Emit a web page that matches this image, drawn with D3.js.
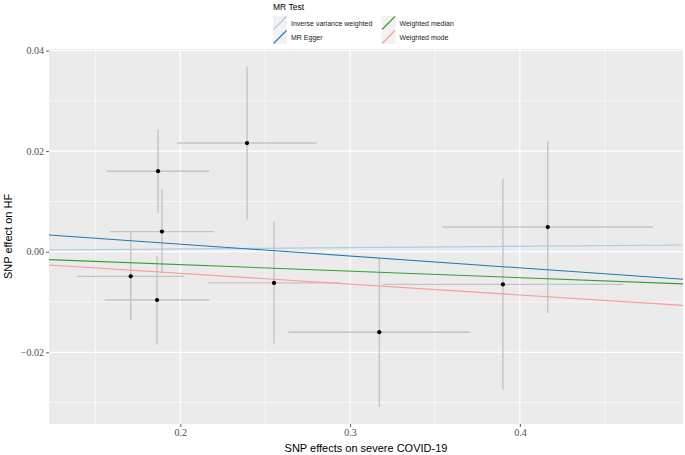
<!DOCTYPE html>
<html><head><meta charset="utf-8">
<script src="https://cdn.jsdelivr.net/npm/d3@7"></script>
<style>body{margin:0;background:#fff} .tick text{font-family:"Liberation Serif","DejaVu Serif",serif !important;}</style>
</head><body><svg id="c" width="685" height="455"></svg>
<script>
// Data
const snpX  = [0.1869, 0.2393, 0.1892, 0.1708, 0.1863, 0.2552, 0.3900, 0.4164, 0.3172];
const snpY  = [0.0160, 0.0216, 0.0040, -0.0049, -0.0096, -0.0062, -0.0065, 0.0049, -0.0160];
const seX   = [0.0302, 0.0411, 0.0306, 0.0315, 0.0309, 0.0392, 0.0708, 0.0621, 0.0535];
const seY   = [0.0083, 0.0152, 0.0083, 0.0088, 0.0088, 0.0121, 0.0210, 0.0171, 0.0148];
const methods    = ["Inverse variance weighted", "MR Egger", "Weighted median", "Weighted mode"];
const slopes     = [0.0027, -0.0236, -0.0129, -0.0215];
const intercepts = [0, 0.00622, 0, 0];
const colors     = ["#a6cee3", "#1f78b4", "#33a02c", "#fb9a99"];
const xTicks = [0.2, 0.3, 0.4];
const xMinor = [0.15, 0.25, 0.35, 0.45];
const yTicks = [-0.02, 0.00, 0.02, 0.04];
const yMinor = [-0.03, -0.01, 0.01, 0.03];

const svg = d3.select("#c");
const L = 49, R = 683, T = 49, B = 424;
const x = d3.scaleLinear().domain([0.2, 0.4]).range([180.3, 519.9]);
const y = d3.scaleLinear().domain([0, 0.02]).range([251.7, 151.1]);
// panel
svg.append("rect").attr("x", L).attr("y", T).attr("width", R - L).attr("height", B - T).attr("fill", "#ebebeb");
const g = svg.append("g");
g.selectAll(".vmin").data(xMinor).join("line").attr("x1", d => x(d)).attr("x2", d => x(d)).attr("y1", T).attr("y2", B).attr("stroke", "#fff").attr("stroke-width", 0.6);
g.selectAll(".hmin").data(yMinor).join("line").attr("y1", d => y(d)).attr("y2", d => y(d)).attr("x1", L).attr("x2", R).attr("stroke", "#fff").attr("stroke-width", 0.6);
g.selectAll(".vmaj").data(xTicks).join("line").attr("x1", d => x(d)).attr("x2", d => x(d)).attr("y1", T).attr("y2", B).attr("stroke", "#fff").attr("stroke-width", 1.2);
g.selectAll(".hmaj").data(yTicks).join("line").attr("y1", d => y(d)).attr("y2", d => y(d)).attr("x1", L).attr("x2", R).attr("stroke", "#fff").attr("stroke-width", 1.2);

const pts = snpX.map((v, i) => ({x: v, y: snpY[i], sx: seX[i], sy: seY[i]}));
svg.append("defs").append("clipPath").attr("id", "pc").append("rect").attr("x", L).attr("y", T).attr("width", R - L).attr("height", B - T);
const pg = svg.append("g").attr("clip-path", "url(#pc)");
pg.selectAll(".eh").data(pts).join("line").attr("x1", d => x(d.x - d.sx)).attr("x2", d => x(d.x + d.sx)).attr("y1", d => y(d.y)).attr("y2", d => y(d.y)).attr("stroke", "#c4c4c4").attr("stroke-width", 1.4);
pg.selectAll(".ev").data(pts).join("line").attr("x1", d => x(d.x)).attr("x2", d => x(d.x)).attr("y1", d => y(d.y - d.sy)).attr("y2", d => y(d.y + d.sy)).attr("stroke", "#c4c4c4").attr("stroke-width", 1.4);
const x0 = x.invert(L), x1 = x.invert(R);
pg.selectAll(".ab").data(methods).join("line")
  .attr("x1", L).attr("x2", R)
  .attr("y1", (d, i) => y(intercepts[i] + slopes[i] * x0))
  .attr("y2", (d, i) => y(intercepts[i] + slopes[i] * x1))
  .attr("stroke", (d, i) => colors[i]).attr("stroke-width", 1.1);
pg.selectAll(".pt").data(pts).join("circle").attr("cx", d => x(d.x)).attr("cy", d => y(d.y)).attr("r", 2.1).attr("fill", "#000");

// axes
const xa = svg.append("g").attr("transform", `translate(0,${B})`).call(d3.axisBottom(x).tickValues(xTicks).tickFormat(d3.format(".1f")).tickSize(3).tickPadding(2));
const ya = svg.append("g").attr("transform", `translate(${L},0)`).call(d3.axisLeft(y).tickValues(yTicks).tickFormat(d => d3.format(".2f")(d).replace("-", "\u2212")).tickSize(3).tickPadding(2));
[xa, ya].forEach(a => {
  a.attr("font-family", "Liberation Serif, DejaVu Serif, serif").attr("font-size", 10);
  a.select(".domain").remove();
  a.selectAll(".tick line").attr("stroke", "#333").attr("stroke-width", 0.8);
  a.selectAll(".tick text").attr("fill", "#4d4d4d");
});

svg.append("text").attr("x", (L + R) / 2).attr("y", 452).attr("text-anchor", "middle").style("font-family", "'Liberation Sans', Arial, sans-serif").style("font-size", "11px").text("SNP effects on severe COVID-19");
svg.append("text").attr("transform", `translate(12,${(T + B) / 2}) rotate(-90)`).attr("text-anchor", "middle").style("font-family", "'Liberation Sans', Arial, sans-serif").style("font-size", "11px").text("SNP effect on HF");

// legend
const lg = svg.append("g").style("font-family", "'Liberation Sans', Arial, sans-serif");
lg.append("text").attr("x", 273).attr("y", 10).style("font-size", "8.5px").text("MR Test");
const pos = [[273, 16], [273, 30], [381.5, 16], [381.5, 30]];
const items = lg.selectAll(".it").data(methods).join("g").attr("transform", (d, i) => `translate(${pos[i][0]},${pos[i][1]})`);
items.append("rect").attr("width", 14).attr("height", 14).attr("fill", "#f2f2f2");
items.append("line").attr("x1", 0.5).attr("y1", 13.5).attr("x2", 13.5).attr("y2", 0.5).attr("stroke", (d, i) => colors[i]).attr("stroke-width", 1.1);
items.append("text").attr("x", 18).attr("y", 10).style("font-size", "7px").attr("fill", "#1a1a1a").text(d => d);
</script></body></html>
